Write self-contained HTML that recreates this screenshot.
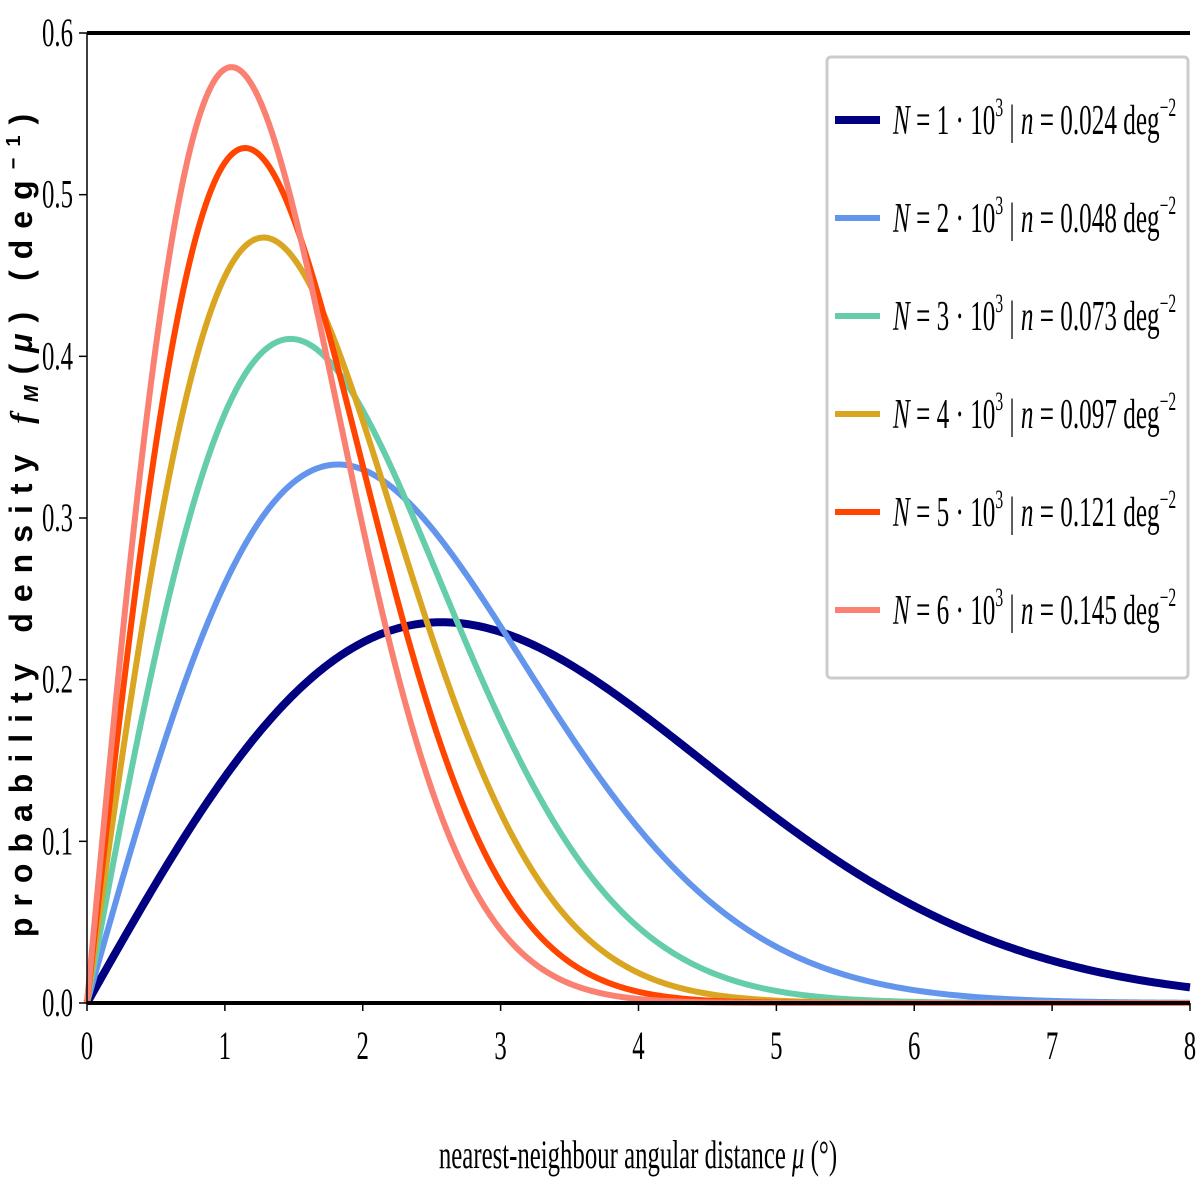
<!DOCTYPE html>
<html><head><meta charset="utf-8"><style>
html,body{margin:0;padding:0;background:#fff;}
svg{display:block;}
text{font-family:"Liberation Serif",serif;fill:#000;}
</style></head><body>
<svg id="chart" width="1200" height="1200" viewBox="0 0 1200 1200">
<g id="plot"></g>
<g id="axes"></g>
<g id="legend"></g>
</svg>
<script>
const seriesN = [1, 2, 3, 4, 5, 6];
const densities = [0.024, 0.048, 0.073, 0.097, 0.121, 0.145];
const densityLabels = ["0.024", "0.048", "0.073", "0.097", "0.121", "0.145"];
const colors = ["#000080", "#6495ED", "#66CDAA", "#DAA520", "#FF4500", "#FA8072"];
const widths = [8, 6, 6, 6, 6, 6];
const xTicks = [0, 1, 2, 3, 4, 5, 6, 7, 8];
const yTicks = [0.0, 0.1, 0.2, 0.3, 0.4, 0.5, 0.6];

const NS = "http://www.w3.org/2000/svg";
const X0 = 87, X1 = 1190, Y0 = 1003, Y1 = 33;
const xs = v => X0 + (v - 0) / 8 * (X1 - X0);
const ys = v => Y0 - (v - 0) / 0.6 * (Y0 - Y1);
function mk(tag, attrs, parent) {
  const e = document.createElementNS(NS, tag);
  for (const k in attrs) e.setAttribute(k, attrs[k]);
  parent.appendChild(e);
  return e;
}
const plotG = document.getElementById('plot');
const axesG = document.getElementById('axes');
const legendG = document.getElementById('legend');

densities.forEach((n, i) => {
  let d = "";
  for (let k = 0; k <= 400; k++) {
    const mu = 8 * k / 400;
    const f = 2 * Math.PI * n * mu * Math.exp(-Math.PI * n * mu * mu);
    d += (k ? "L" : "M") + xs(mu).toFixed(2) + "," + ys(f).toFixed(2);
  }
  const p = mk('path', {d: d, fill: 'none', stroke: colors[i], 'stroke-width': widths[i], 'stroke-linejoin': 'round'}, plotG);
  
  
});

const topSpine = mk('line', {x1: X0, y1: Y1, x2: X1, y2: Y1, stroke: '#000', 'stroke-width': 4}, axesG);


const bottomSpine = mk('line', {x1: X0, y1: Y0, x2: X1, y2: Y0, stroke: '#000', 'stroke-width': 4}, axesG);


const leftSpine = mk('line', {x1: X0, y1: Y1, x2: X0, y2: Y0, stroke: '#000', 'stroke-width': 1.5}, axesG);



xTicks.forEach(v => {
  const t = mk('line', {x1: xs(v), y1: Y0, x2: xs(v), y2: Y0 + 8, stroke: '#000', 'stroke-width': 1.5}, axesG);
  
  
  const tx = mk('text', {transform: `translate(${xs(v)},${Y0 + 56}) scale(0.62,1)`, 'text-anchor': 'middle', 'font-size': 40}, axesG);
  tx.textContent = String(v);
  
  
});
yTicks.forEach(v => {
  const t = mk('line', {x1: X0 - 8, y1: ys(v), x2: X0, y2: ys(v), stroke: '#000', 'stroke-width': 1.5}, axesG);
  
  
  const tx = mk('text', {transform: `translate(${X0 - 14},${ys(v) + 13}) scale(0.62,1)`, 'text-anchor': 'end', 'font-size': 40}, axesG);
  tx.textContent = v.toFixed(1);
  
  
});

const xt = mk('text', {transform: 'translate(638,1168) scale(0.62,1)', 'text-anchor': 'middle', 'font-size': 40}, axesG);
xt.innerHTML = 'nearest-neighbour angular distance <tspan font-style="italic">μ</tspan> (°)';


const yt = mk('text', {transform: 'translate(32,520) rotate(-90)', 'text-anchor': 'middle', 'font-size': 32, 'letter-spacing': '11', 'font-weight': '600', style: 'font-family:"Liberation Sans",sans-serif'}, axesG);
yt.innerHTML = 'probability density <tspan font-style="italic" font-family="Liberation Serif">f</tspan><tspan font-size="20" font-style="italic" dy="6">M</tspan><tspan dy="-6">(</tspan><tspan font-style="italic">μ</tspan>) (deg<tspan font-size="20" dy="-12">−1</tspan><tspan dy="12">)</tspan>';



const box = mk('rect', {x: 827, y: 57, width: 361, height: 621, rx: 4, fill: '#fff', stroke: '#ccc', 'stroke-width': 3}, legendG);


seriesN.forEach((N, i) => {
  const y = 120 + i * 98;
  const g = mk('g', {}, legendG);
  
  
  mk('line', {x1: 835, y1: y, x2: 880, y2: y, stroke: colors[i], 'stroke-width': widths[i]}, g);
  const t = mk('text', {transform: `translate(893,${y + 14}) scale(0.6,1)`, 'font-size': 42}, g);
  t.innerHTML = `<tspan font-style="italic">N</tspan> = ${N} · 10<tspan font-size="26" dy="-18">3</tspan><tspan dy="18"> | </tspan><tspan font-style="italic">n</tspan> = ${densityLabels[i]} deg<tspan font-size="26" dy="-18">−2</tspan>`;
});
</script>
</body></html>
